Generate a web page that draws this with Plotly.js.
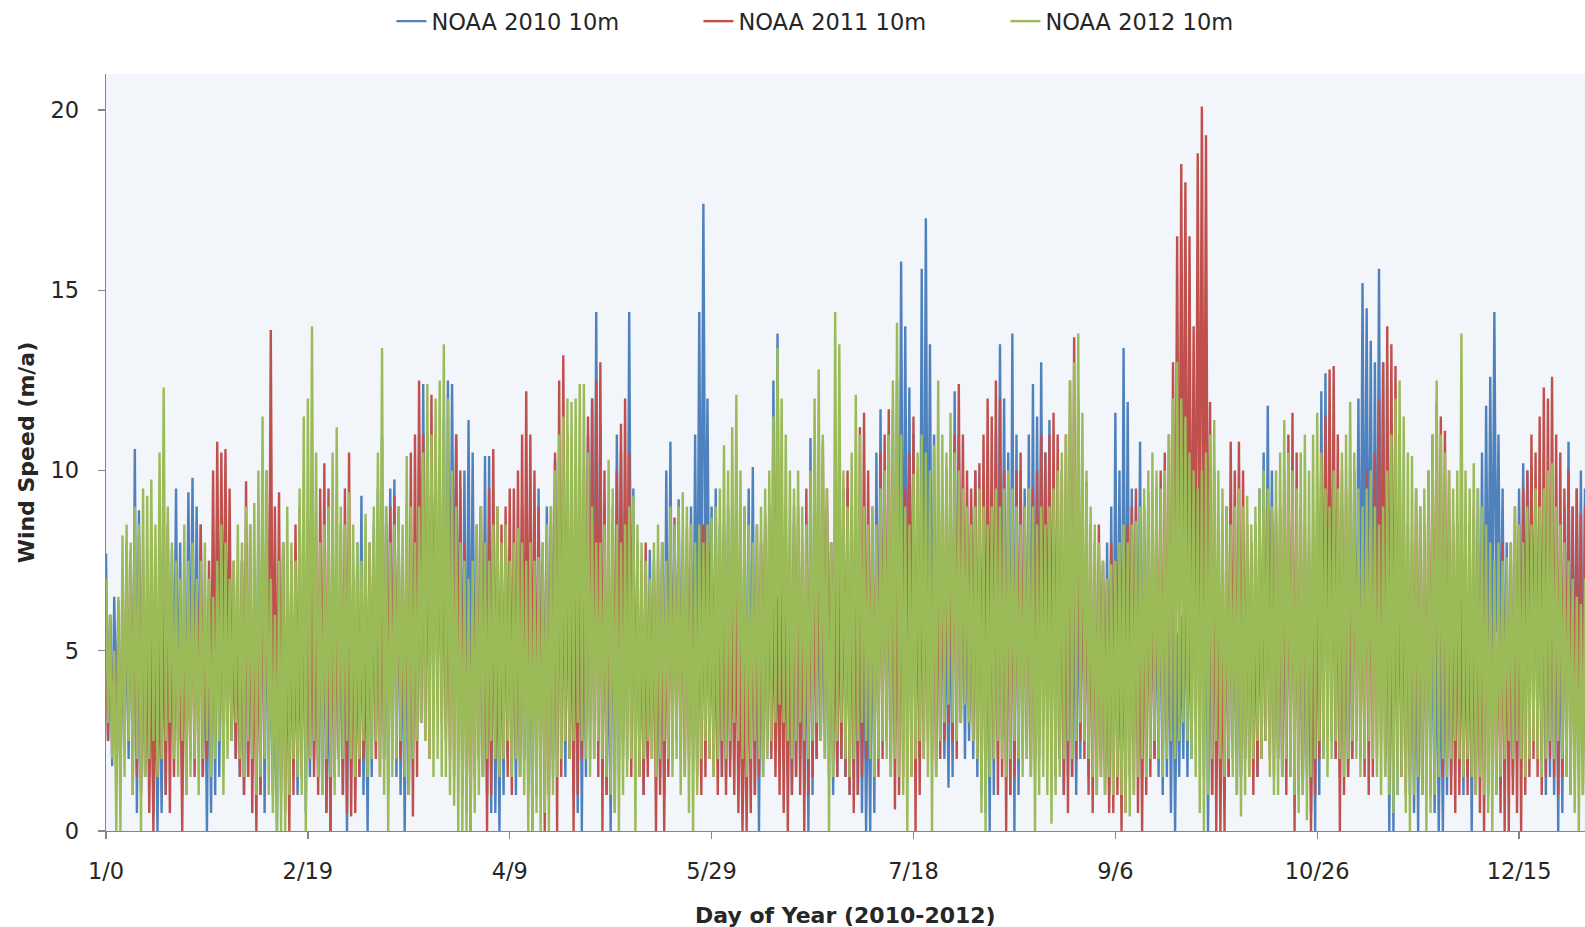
<!DOCTYPE html>
<html>
<head>
<meta charset="utf-8">
<script src="https://cdn.plot.ly/plotly-3.0.1.min.js"></script>
<style>html,body{margin:0;padding:0;background:#fff;}#chart{width:1585px;height:927px;}</style>
</head>
<body>
<div id="chart"></div>
<script>
// Tick positions (day of year) and their labels
const TICK_DAYS = [0, 49, 98, 147, 196, 245, 294, 343];
const TICK_LABELS = ["1/0", "2/19", "4/9", "5/29", "7/18", "9/6", "10/26", "12/15"];
const SERIES_NAMES = ["NOAA 2010 10m", "NOAA 2011 10m", "NOAA 2012 10m"];

// Daily high / low wind speed, days 0..359
const B_HI = [7.7,6.0,6.5,6.4,5.0,6.2,7.8,10.6,8.9,7.5, 6.0,5.5,4.5,5.5,7.0,7.5,7.8,9.5,8.0,7.0, 9.4,9.8,9.0,8.5,6.0,6.5,7.5,9.0,7.0,6.5,
6.0,5.5,6.5,7.5,8.0,6.5,6.0,8.5,10.0,7.5, 5.0,4.0,7.5,8.0,6.5,7.0,6.0,5.5,7.5,6.0, 7.5,8.0,6.5,7.0,5.0,8.5,7.0,6.5,7.5,8.0,
7.0,8.0,9.3,6.0,7.5,8.5,9.5,10.9,9.0,9.5, 9.75,9.0,6.5,7.0,7.5,8.0,11.0,12.4,11.0,10.5, 9.0,10.0,11.5,12.5,12.4,11.0,9.5,10.0,11.4,10.5,
8.0,9.0,10.4,10.4,8.5,6.0,7.0,8.5,7.5,7.0, 8.0,9.0,8.0,6.0,8.0,9.5,7.5,9.0,8.5,10.3, 9.0,8.0,8.5,7.0,9.0,10.0,8.5,11.0,12.0,14.4,
11.3,9.0,6.0,8.5,11.0,10.5,9.0,14.4,9.5,8.0, 7.0,6.5,7.8,7.5,6.5,8.0,10.0,10.8,8.5,9.2, 8.0,7.5,9.0,11.0,14.4,17.4,12.0,9.0,9.5,8.5,
8.5,9.0,9.0,9.7,8.5,9.0,9.5,10.1,7.0,8.0, 8.5,9.0,12.5,13.8,10.0,8.5,7.0,9.0,8.0,7.5, 6.5,10.9,9.5,8.0,7.5,9.0,8.0,7.5,8.0,9.0,
9.5,8.5,8.0,7.5,6.0,5.0,8.0,10.5,11.7,10.0, 9.0,11.7,12.5,15.8,14.0,12.3,11.0,9.0,15.6,17.0, 13.5,11.0,9.0,8.0,7.0,7.5,12.2,11.0,9.0,8.5,
9.0,10.0,9.5,8.5,7.0,9.0,11.0,13.5,12.0,10.5, 13.8,11.0,10.0,9.5,11.0,12.4,11.5,13.0,10.5,11.4, 10.0,9.0,8.0,8.5,9.0,7.5,8.0,9.5,8.0,7.5,
7.0,7.5,7.4,8.0,9.0,11.6,10.0,13.4,11.9,9.5, 9.0,10.8,9.0,9.4,8.0,7.5,8.0,8.5,7.0,6.5, 5.5,6.0,8.0,7.0,8.5,9.0,10.0,8.5,7.5,8.0,
7.0,6.5,7.5,8.0,7.0,8.5,8.0,7.5,8.0,8.5, 9.5,10.5,11.8,10.0,8.9,8.0,7.0,8.5,9.0,8.0, 7.5,7.0,8.0,6.0,9.0,12.2,12.7,10.5,9.6,8.5,
9.0,8.0,8.5,10.0,12.0,15.2,14.5,13.6,13.0,15.6, 13.0,8.0,7.5,9.0,8.5,8.0,7.5,7.0,6.5,8.0, 8.0,7.5,7.0,6.0,5.5,7.0,8.0,7.5,8.5,7.0,
6.5,7.0,7.0,9.5,10.5,11.8,12.6,14.4,11.0,9.5, 8.0,7.5,7.0,9.5,10.2,10.0,10.1,9.5,7.0,8.0, 9.5,9.0,8.0,7.5,9.0,10.8,9.0,9.5,10.0,9.5];
const B_LO = [2.5,1.8,3.0,1.5,2.5,2.0,1.0,0.5,1.2,1.5, 1.5,0.5,0.0,0.5,1.0,2.5,3.0,2.5,1.0,3.0, 3.5,2.5,3.0,1.5,0.0,0.5,1.0,1.5,2.0,3.0,
2.5,2.0,1.5,1.0,1.5,2.0,3.0,1.0,0.5,2.0, 1.0,0.0,1.5,2.0,2.5,1.5,1.0,2.0,0.5,1.5, 2.0,1.5,1.0,0.5,0.0,1.5,2.0,1.0,0.0,1.5,
2.0,1.5,1.0,0.0,1.5,2.5,3.0,2.0,1.0,2.0, 1.5,1.0,0.0,1.0,2.0,2.5,3.0,3.5,3.0,4.0, 4.5,3.5,3.0,4.0,5.0,3.5,2.0,1.5,2.5,3.0,
2.0,1.5,1.0,0.5,0.5,0.0,1.0,2.0,2.5,1.0, 1.5,2.0,1.0,0.0,1.5,2.0,2.5,1.0,1.5,2.0, 2.5,1.5,2.0,1.0,0.5,0.0,1.5,2.0,3.0,2.5,
1.5,1.0,0.0,0.5,1.5,2.0,3.0,3.5,2.0,1.5, 1.0,2.0,3.0,2.5,1.5,1.0,2.0,2.5,3.0,3.5, 3.0,2.5,2.0,3.5,5.0,6.0,4.0,2.5,2.0,1.5,
1.5,2.0,2.5,2.0,1.0,1.5,2.0,1.0,0.0,1.5, 2.0,2.5,3.0,4.0,2.0,1.5,1.0,1.5,2.0,1.0, 0.0,1.0,2.0,2.5,2.0,1.5,1.0,1.5,2.0,1.5,
1.0,1.5,1.0,0.5,0.0,0.0,0.5,2.0,3.0,2.5, 2.0,2.5,3.0,3.5,4.0,3.5,2.5,2.0,3.0,4.0, 3.0,2.0,2.5,2.0,1.2,1.5,2.5,3.0,2.0,2.5,
2.0,1.5,1.0,0.5,0.0,1.0,2.0,2.5,1.5,1.0, 0.0,1.0,2.0,2.5,2.0,1.5,2.0,3.0,2.5,2.0, 1.5,2.0,1.0,1.5,1.5,1.0,2.0,2.5,1.5,2.0,
2.5,2.0,1.5,1.0,1.5,2.0,1.0,1.5,2.0,2.5, 2.0,1.5,2.0,2.5,2.0,1.5,1.0,1.5,0.5,0.0, 1.5,2.0,1.5,2.0,3.0,2.5,1.5,0.0,1.0,2.0,
2.5,2.0,1.5,2.0,1.0,1.5,2.0,2.5,2.0,1.5, 2.0,2.5,3.0,2.5,2.0,1.5,2.0,2.5,2.0,1.5, 1.0,1.5,0.5,0.0,1.0,2.0,3.0,2.5,2.0,1.5,
2.0,1.5,2.0,3.0,4.0,5.0,4.5,3.5,4.0,3.0, 1.5,0.0,0.0,1.0,1.5,2.0,1.0,0.5,0.0,1.0, 1.5,1.0,0.5,0.0,0.0,1.0,1.5,2.0,1.5,1.0,
1.5,0.0,1.0,2.0,3.0,4.0,5.0,5.5,4.0,2.5, 2.0,1.5,2.0,3.5,4.5,5.0,4.0,3.0,2.0,1.0, 1.5,1.0,0.0,0.5,1.5,2.0,3.0,2.5,2.0,1.5];

const R_HI = [5.0,6.0,4.5,5.5,7.0,8.0,7.5,6.5,8.2,7.0, 6.0,5.5,6.5,7.5,8.0,8.5,7.0,6.0,5.5,7.0, 6.5,8.0,7.0,8.5,6.0,7.5,10.0,10.8,10.5,10.6,
9.5,7.5,6.5,7.5,9.7,8.5,6.0,7.0,9.0,10.0, 13.9,9.0,9.4,8.0,6.0,7.5,8.5,9.0,8.0,7.0, 8.0,7.5,9.5,10.2,9.5,8.0,7.0,8.5,9.5,10.5,
7.0,6.0,6.5,7.5,8.0,7.0,7.5,8.0,8.5,9.0, 9.3,8.5,7.5,9.0,10.5,11.0,12.5,11.0,10.0,12.1, 11.0,9.0,8.5,7.5,9.5,11.0,10.0,8.0,6.5,7.5,
8.5,9.0,8.0,9.5,10.6,9.0,8.5,9.0,9.5,9.5, 10.0,11.0,12.2,11.0,10.0,9.0,8.0,8.1,9.0,10.5, 12.5,13.2,11.0,9.0,8.0,9.0,10.0,11.5,12.0,12.5,
13.0,10.0,8.5,9.0,10.0,11.3,12.0,10.5,8.0,7.0, 7.5,8.0,6.5,7.0,7.5,8.0,7.5,8.5,8.7,8.0, 7.5,8.4,7.0,6.5,7.5,8.5,8.0,7.0,6.5,7.5,
8.0,7.5,6.5,7.0,5.0,4.5,6.0,7.5,8.5,8.0, 8.8,8.0,7.0,6.5,7.5,8.0,7.5,8.5,9.0,8.0, 9.5,9.0,8.5,9.5,10.8,9.5,8.0,7.5,8.0,9.5,
10.0,9.0,8.5,11.2,11.6,10.0,9.0,8.5,10.5,11.0, 11.7,10.0,9.0,8.5,9.5,10.5,11.5,10.0,9.0,8.5, 7.5,8.0,8.5,9.5,10.0,9.5,11.0,12.4,11.0,10.0,
9.5,10.0,10.2,11.0,12.0,11.5,12.5,12.0,10.0,9.5, 9.0,10.0,10.5,9.0,8.5,9.5,10.0,11.0,10.5,11.0, 11.6,11.0,10.0,11.0,12.5,13.7,12.0,9.0,9.7,8.5,
8.0,8.5,7.5,7.0,8.0,7.5,6.5,7.0,8.5,9.0, 9.5,7.0,8.0,8.5,9.0,9.5,10.0,10.5,11.0,13.0, 16.5,18.5,18.0,16.5,14.0,18.8,20.1,19.3,11.9,10.0,
7.0,6.0,9.0,10.8,10.0,10.8,10.0,8.5,8.0,7.5, 8.0,8.5,9.0,8.9,8.5,9.0,10.0,11.0,11.6,10.5, 9.0,8.5,7.5,8.0,9.0,10.5,11.5,12.8,12.9,11.0,
10.0,9.5,10.0,9.5,8.5,8.0,10.0,9.5,10.5,12.0, 13.0,14.0,13.5,12.9,11.0,9.0,8.5,8.0,9.5,9.0, 8.5,10.0,11.0,11.9,11.5,11.1,10.0,8.5,8.0,7.5,
8.0,8.5,9.0,8.0,7.5,8.5,7.0,6.5,7.0,8.0, 7.5,8.0,9.0,8.5,9.5,10.0,11.0,10.5,11.5,12.3, 12.0,12.6,11.0,10.5,9.5,10.0,9.0,9.5,8.8,9.0];
const R_LO = [2.5,3.0,2.0,1.5,2.5,3.0,2.0,1.5,1.0,1.5, 0.5,0.0,1.5,2.0,1.0,0.5,1.5,2.5,0.0,1.0, 2.0,1.5,2.5,1.5,2.0,3.0,2.5,3.5,4.0,3.0,
2.5,2.0,1.5,1.0,1.5,0.5,0.0,1.0,2.0,3.0, 2.5,2.0,1.0,0.5,0.0,1.0,2.0,1.5,2.5,2.0, 1.5,1.0,2.0,0.5,0.0,1.5,2.0,1.0,0.5,0.4,
0.5,1.5,2.0,2.5,3.0,2.0,1.5,2.0,2.5,3.0, 2.5,2.0,1.5,1.0,0.4,1.5,3.0,2.5,2.0,3.0, 3.5,3.0,2.5,2.0,1.5,2.0,1.0,0.5,0.0,1.5,
2.0,1.5,0.0,1.0,2.0,2.5,2.0,1.5,1.0,2.0, 1.5,2.0,2.5,2.0,1.0,1.5,0.0,1.0,2.0,0.0, 1.5,2.5,2.0,0.0,1.0,2.0,2.5,3.0,2.0,1.5,
0.0,1.0,2.0,2.5,3.0,2.5,2.0,1.5,2.0,1.5, 1.0,1.5,2.0,0.0,1.0,0.0,1.5,2.0,2.5,2.0, 1.5,2.0,2.5,1.5,1.0,1.5,2.0,1.5,1.0,1.5,
1.0,1.5,1.0,0.5,0.0,0.0,0.5,1.0,1.5,2.0, 2.5,2.0,1.5,1.0,0.5,0.0,1.0,1.5,1.0,0.0, 1.0,1.5,2.0,2.5,3.0,2.5,2.0,1.5,2.0,1.5,
1.0,0.5,1.0,1.5,2.0,2.5,2.0,1.5,2.0,2.5, 1.5,0.6,1.0,1.5,2.0,1.5,0.0,1.0,2.0,2.5, 2.0,1.5,2.0,2.5,3.0,2.5,2.0,3.0,3.5,3.0,
2.5,2.0,1.5,2.0,2.5,2.0,1.0,1.5,0.0,1.0, 1.5,2.0,2.5,2.0,1.5,2.0,2.5,3.0,2.5,2.0, 1.5,2.0,1.0,0.5,1.5,2.0,2.5,2.0,1.0,0.5,
1.0,1.5,1.0,0.5,0.5,1.0,0.0,0.5,1.5,1.0, 0.5,0.0,1.0,1.5,2.0,2.5,2.0,2.5,3.0,4.0, 5.0,6.0,4.5,4.0,5.0,6.0,5.5,4.0,1.0,0.0,
0.0,0.0,1.5,2.5,2.0,1.5,2.0,1.5,1.0,1.5, 2.0,2.5,2.0,1.5,2.0,1.5,1.0,1.5,0.0,1.0, 1.5,2.0,0.0,1.0,2.0,2.5,3.0,3.0,2.0,0.0,
1.0,1.5,2.0,2.5,2.0,1.5,1.0,1.5,2.0,2.5, 2.0,1.5,2.0,2.5,1.5,1.0,1.5,2.0,1.5,1.0, 1.5,2.0,2.5,2.0,1.5,2.0,1.0,0.5,1.0,1.5,
1.0,1.5,1.0,0.5,0.0,1.0,1.5,1.0,0.5,0.0, 0.0,1.0,0.5,0.0,1.0,1.5,2.0,1.5,1.0,1.5, 2.0,1.5,1.0,1.5,2.0,1.0,1.5,2.0,1.0,1.5];

const G_HI = [7.0,6.0,5.0,6.5,8.2,8.5,8.0,9.0,8.5,9.5, 9.3,9.75,8.5,10.5,12.3,9.0,8.0,7.5,7.0,8.5, 7.5,8.0,7.0,7.5,8.0,7.0,6.5,7.5,8.5,8.0,
7.0,7.5,8.5,8.0,9.0,8.5,9.1,10.0,11.5,10.0, 7.0,6.0,7.5,8.0,9.0,8.0,7.5,9.5,11.5,12.0, 14.0,10.5,8.0,8.5,9.0,10.5,11.2,9.0,8.5,9.4,
8.5,8.0,7.5,8.8,8.0,9.0,10.5,13.4,9.0,8.0, 8.5,9.0,8.5,10.4,9.0,8.0,9.0,10.5,12.4,11.0, 12.0,12.5,13.5,12.0,10.0,9.0,8.0,7.5,7.0,7.5,
8.5,9.0,8.0,7.5,8.5,9.0,8.0,8.5,7.5,8.0, 8.4,8.0,7.5,8.0,7.5,7.6,8.0,8.5,9.0,10.0, 11.0,11.5,12.0,11.9,12.0,12.4,12.4,10.5,9.0,8.0,
8.0,8.5,10.3,9.5,8.5,8.0,8.5,9.0,9.3,8.5, 8.0,7.5,7.0,8.0,8.5,8.0,7.5,9.0,8.5,9.0, 9.4,9.0,8.5,8.0,8.5,8.0,8.5,8.7,9.0,9.5,
10.7,10.0,11.2,12.1,10.0,9.0,8.5,8.0,8.5,9.0, 9.5,10.0,11.5,13.4,12.0,11.0,10.0,9.5,10.0,9.0, 8.5,10.0,12.0,12.8,11.0,9.5,8.0,14.4,13.5,10.0,
9.0,10.5,12.1,11.0,9.0,8.5,9.0,8.5,9.5,10.0, 11.0,12.5,14.1,11.0,9.0,8.5,9.9,10.5,11.0,10.5, 10.0,10.7,12.5,11.0,10.5,11.6,10.5,10.0,9.5,9.0,
8.5,9.0,9.5,9.0,8.5,9.0,9.5,9.0,9.5,10.0, 9.5,9.0,8.5,9.0,9.5,9.0,8.5,9.0,8.5,9.0, 9.5,10.0,10.5,11.0,12.5,13.0,13.8,11.6,10.0,9.0,
8.5,8.0,7.5,7.0,7.4,7.5,8.0,8.5,8.0,8.5, 8.6,9.0,9.5,10.0,10.5,10.0,9.5,10.0,11.0,12.0, 13.0,12.0,11.5,10.5,10.0,9.5,10.0,10.5,11.0,11.4,
10.0,9.5,9.0,8.5,9.0,9.5,9.0,9.3,8.5,9.0, 9.5,10.0,9.5,9.0,10.0,10.5,11.4,10.5,10.0,9.5, 10.5,11.0,10.0,11.0,11.6,10.5,9.5,9.0,10.0,9.5,
10.5,11.0,11.9,10.5,9.5,9.0,9.5,10.0,9.0,8.5, 9.0,10.0,11.0,12.0,12.5,11.5,10.5,10.4,9.5,9.0, 9.5,10.0,11.0,12.5,11.0,10.5,10.0,9.5,10.0,13.8,
10.0,9.5,10.2,9.5,9.0,8.5,8.0,7.5,8.0,7.5, 7.6,8.0,9.0,8.5,8.0,9.0,8.5,9.5,9.0,9.5, 10.0,10.2,9.0,8.5,8.0,7.5,7.0,6.5,6.3,7.0];
const G_LO = [3.0,2.0,0.0,0.0,1.5,2.5,1.0,2.0,0.0,1.5, 2.0,2.5,1.5,2.0,2.5,3.0,2.0,1.5,2.5,1.0, 1.5,2.0,1.0,2.0,2.5,1.5,2.0,2.5,1.0,2.0,
2.5,3.0,2.0,1.5,2.5,2.0,1.0,1.5,2.0,1.0, 0.5,0.0,0.0,0.0,1.0,2.0,1.5,1.0,0.0,2.0, 2.5,1.5,1.0,2.0,1.5,1.0,1.5,2.0,2.5,2.0,
1.5,2.0,2.5,1.5,2.0,2.5,1.5,1.0,0.0,1.5, 2.0,2.5,1.5,1.0,2.0,2.5,3.0,2.5,2.0,1.5, 2.0,1.5,1.5,1.0,0.7,0.0,0.0,0.0,0.0,0.5,
1.0,1.5,2.0,2.5,2.0,1.5,2.0,2.5,1.5,2.0, 1.5,1.0,0.0,0.0,0.5,0.0,0.5,0.0,1.0,1.5, 2.0,2.5,2.0,2.5,3.0,2.5,2.0,1.5,2.0,2.5,
2.0,1.5,1.0,0.5,0.0,1.0,1.5,2.0,0.0,1.5, 2.0,2.5,2.0,1.5,2.0,2.5,2.0,1.5,2.0,1.0, 1.5,0.5,0.0,1.0,2.0,2.5,2.0,1.5,2.0,2.5,
2.0,2.5,3.0,2.5,2.0,1.5,2.0,2.5,2.0,1.5, 2.0,2.5,3.0,3.5,3.0,2.5,2.0,2.5,3.0,2.5, 2.0,2.5,3.0,2.5,2.0,0.0,1.5,2.5,3.0,2.0,
1.5,2.0,2.5,3.0,2.5,2.0,1.5,2.0,2.5,2.0, 1.5,2.0,1.5,1.0,0.0,1.5,2.0,2.5,2.0,1.5, 0.0,1.5,2.5,3.0,3.5,3.0,2.5,3.0,3.5,3.0,
2.5,2.0,0.5,0.0,1.5,2.0,2.5,2.0,1.5,2.0, 2.5,2.0,1.5,2.0,1.5,0.0,1.0,1.5,1.0,0.2, 1.0,1.5,2.0,2.5,2.0,2.5,3.0,2.5,2.0,1.5,
1.0,1.5,1.0,1.5,1.0,1.5,1.0,0.5,0.4,1.0, 1.5,2.0,1.5,2.0,2.5,2.0,1.5,2.0,2.5,2.0, 2.5,3.0,2.5,2.0,1.5,0.5,0.0,1.0,2.0,2.5,
2.0,1.5,2.0,1.5,1.0,0.4,1.0,1.5,2.0,2.5, 2.0,2.5,1.5,1.0,1.0,1.5,2.0,1.5,1.0,0.5, 1.0,0.3,1.5,2.0,2.5,2.0,1.5,2.0,2.5,2.0,
1.5,2.0,2.5,2.0,1.5,2.0,2.5,2.0,1.5,1.0, 1.5,1.0,0.5,1.0,1.5,0.5,0.0,1.0,1.5,1.0, 0.0,0.5,1.0,1.5,2.0,1.5,2.0,2.5,2.0,1.5,
2.0,1.5,1.0,1.5,1.0,0.5,0.0,1.0,1.5,2.0, 2.5,2.0,2.5,2.0,1.5,2.0,2.5,2.0,1.5,2.0, 2.5,2.0,2.5,2.0,1.5,1.0,0.5,0.0,1.0,1.5];

const COLORS = ["#4F81BD", "#C0504D", "#9BBB59"];

// Interleave each day's high and low so the trace swings up and down like the hourly record
function buildSeries(hi, lo) {
  const x = [], y = [];
  for (let d = 0; d < hi.length; d++) {
    x.push(d);       y.push(hi[d]);
    x.push(d + 0.5); y.push(lo[d]);
  }
  return {x, y};
}

const sets = [[B_HI, B_LO], [R_HI, R_LO], [G_HI, G_LO]];
const traces = sets.map((s, i) => {
  const d = buildSeries(s[0], s[1]);
  return {
    type: "scatter", mode: "lines", name: SERIES_NAMES[i],
    x: d.x, y: d.y,
    line: {color: COLORS[i], width: 2.4},
    hoverinfo: "skip"
  };
});

const FONT = "DejaVu Sans, Verdana, sans-serif";
const layout = {
  width: 1585, height: 927,
  margin: {l: 106, r: 0, t: 74, b: 96, pad: 0},
  paper_bgcolor: "#ffffff",
  plot_bgcolor: "#F2F5FA",
  showlegend: true,
  legend: {
    orientation: "h", xref: "paper", x: 0.193, xanchor: "left",
    yref: "container", y: 1.0, yanchor: "top",
    font: {family: FONT, size: 22.5, color: "#262626"},
    entrywidth: 262, entrywidthmode: "pixels",
    bgcolor: "rgba(0,0,0,0)"
  },
  xaxis: {
    range: [0, 359], tickmode: "array", tickvals: TICK_DAYS, ticktext: TICK_LABELS,
    showgrid: false, zeroline: false, showline: true, linecolor: "#868686", linewidth: 1.3,
    ticks: "outside", ticklen: 7, tickcolor: "#868686", tickwidth: 1.3,
    ticklabelstandoff: 13,
    tickfont: {family: FONT, size: 22.5, color: "#262626"}
  },
  yaxis: {
    range: [0, 21], tickmode: "array", tickvals: [0, 5, 10, 15, 20],
    showgrid: false, zeroline: false, showline: true, linecolor: "#868686", linewidth: 1.3,
    ticks: "outside", ticklen: 7, tickcolor: "#868686", tickwidth: 1.3,
    ticklabelstandoff: 14,
    tickfont: {family: FONT, size: 22.5, color: "#262626"}
  },
  annotations: [
    {text: "Day of Year (2010-2012)", xref: "paper", yref: "paper", x: 0.5, y: -0.112,
     xanchor: "center", yanchor: "middle", showarrow: false,
     font: {family: FONT, size: 22, color: "#262626", weight: "bold"}},
    {text: "Wind Speed (m/a)", xref: "paper", yref: "paper", x: -0.0535, y: 0.5,
     xanchor: "center", yanchor: "middle", showarrow: false, textangle: -90,
     font: {family: FONT, size: 22, color: "#262626", weight: "bold"}}
  ]
};

Plotly.newPlot("chart", traces, layout, {staticPlot: true, displayModeBar: false});
</script>
</body>
</html>
